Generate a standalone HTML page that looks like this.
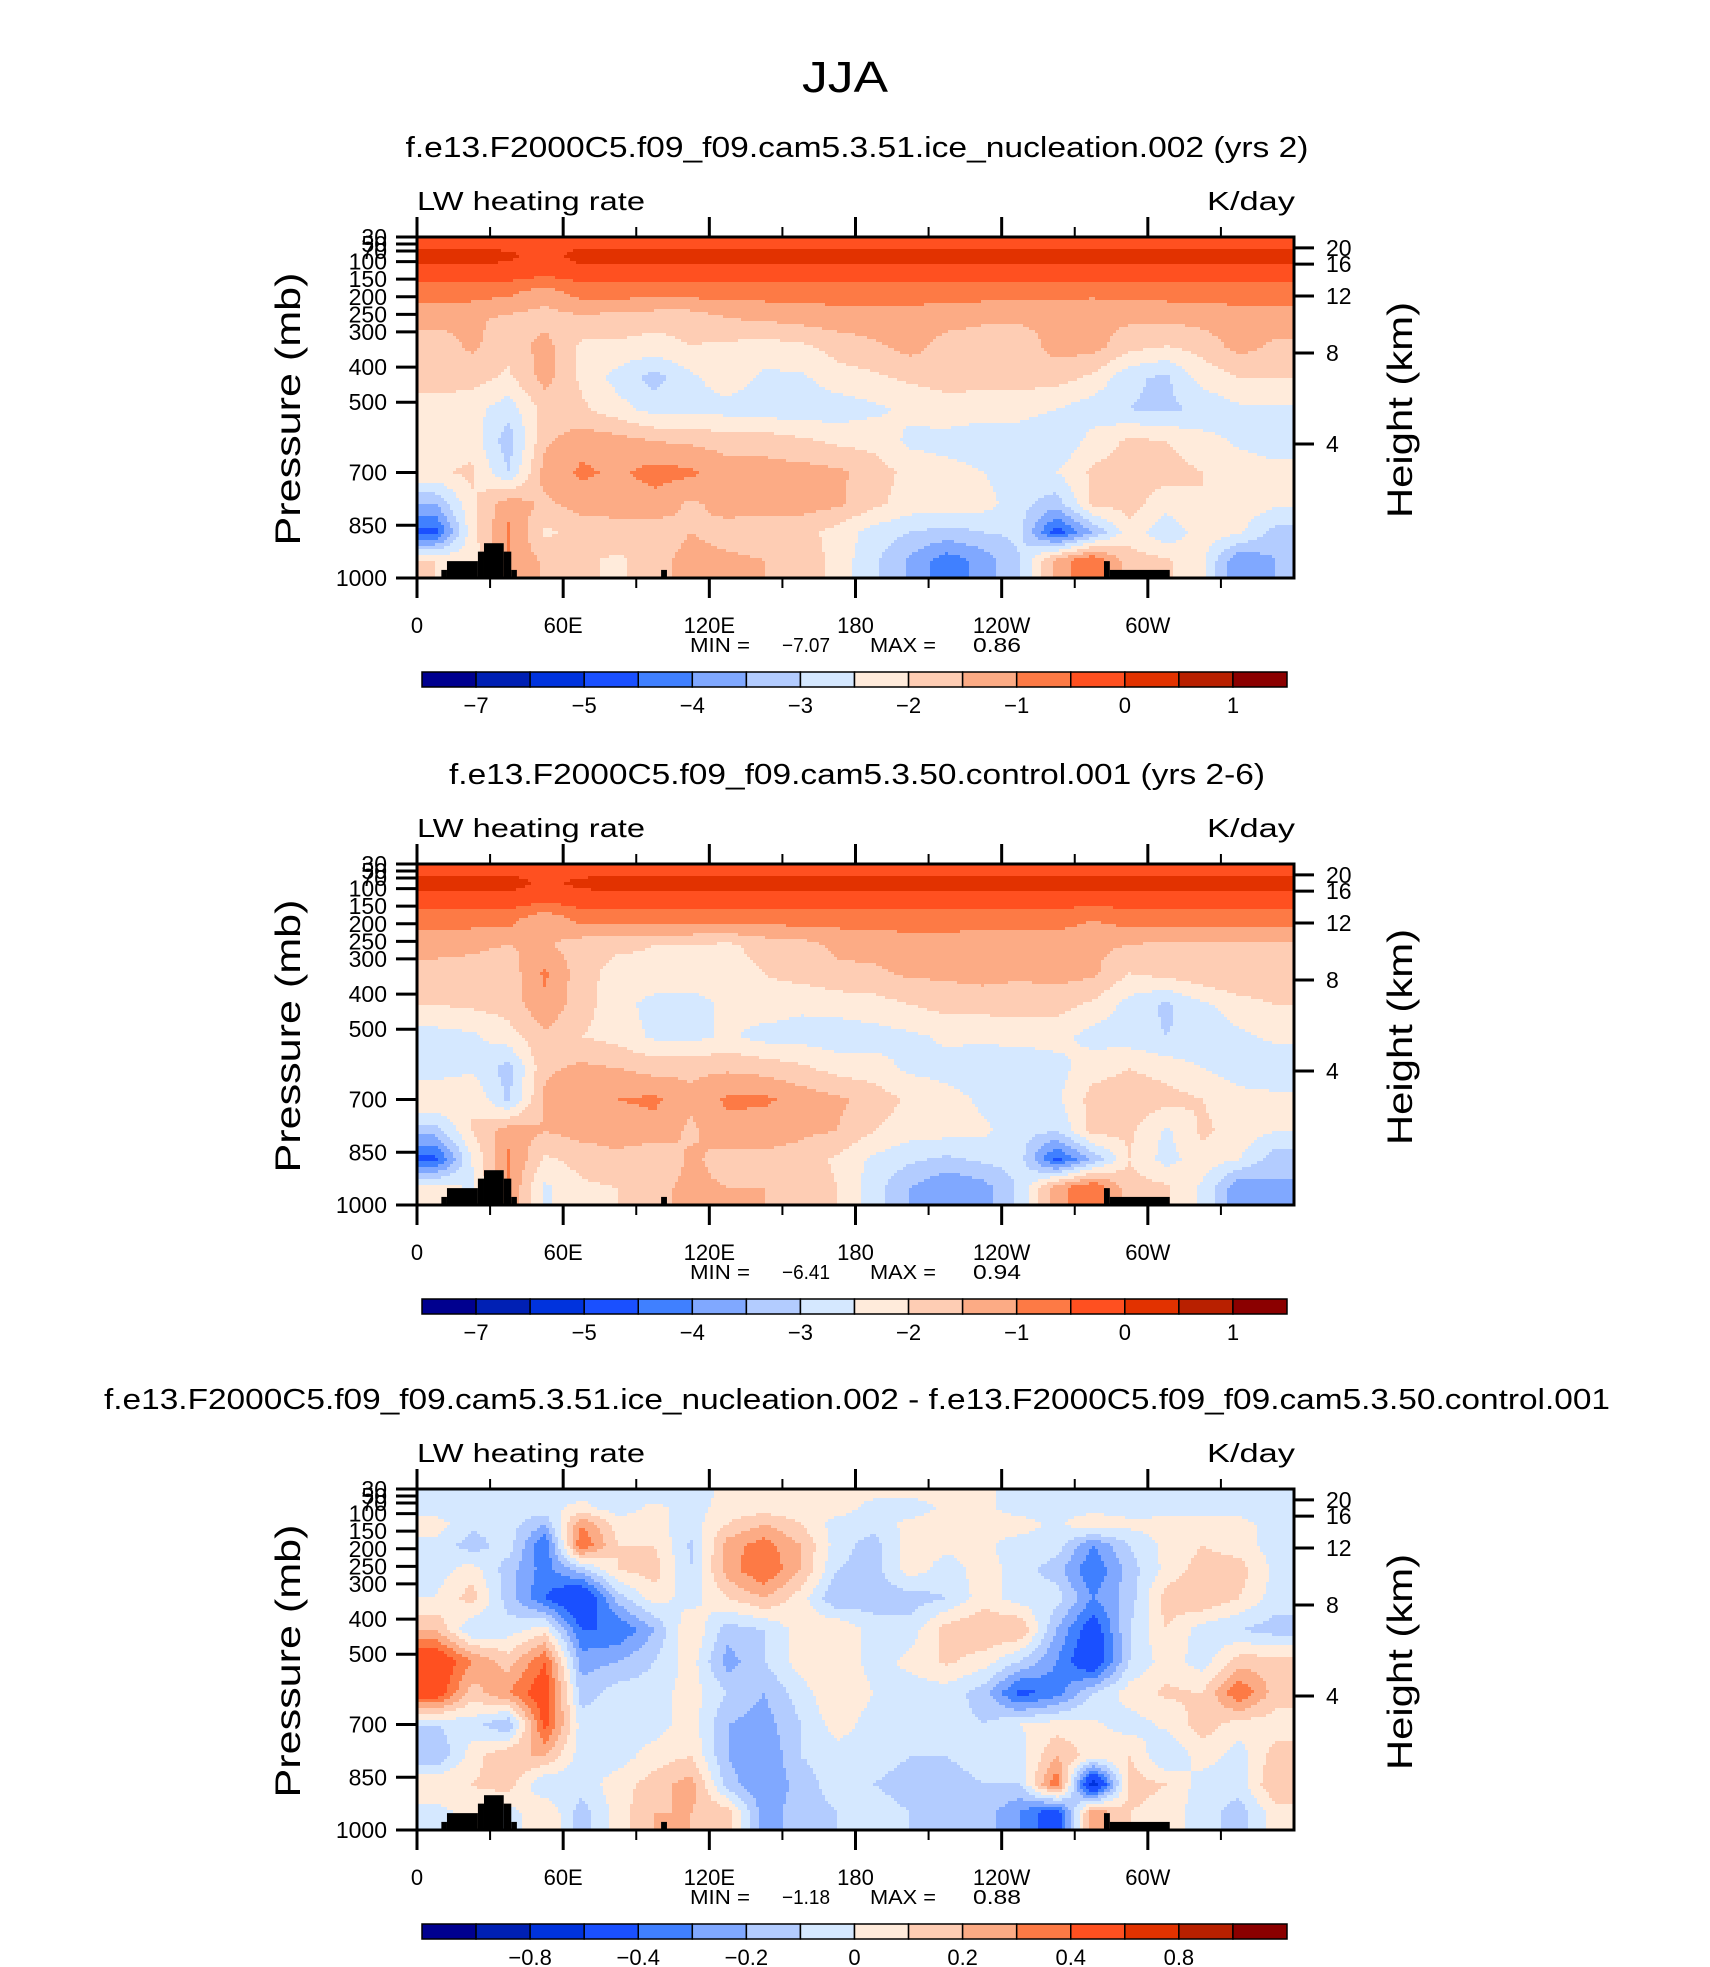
<!DOCTYPE html>
<html><head><meta charset="utf-8"><style>
html,body{margin:0;padding:0;background:#fff}
svg{display:block}
text{font-family:"Liberation Sans",sans-serif;fill:#000}
</style></head><body>
<svg id="fig" width="1710" height="1967" viewBox="0 0 1710 1967" xmlns="http://www.w3.org/2000/svg">
<rect x="0" y="0" width="1710" height="1967" fill="#fff"/>
<text x="845" y="92" font-size="44" text-anchor="middle" textLength="86" lengthAdjust="spacingAndGlyphs">JJA</text>
</svg>
<script>
// ---------- data ----------
const lonCenters = [7.5,22.5,37.5,52.5,67.5,82.5,97.5,112.5,127.5,142.5,157.5,172.5,187.5,202.5,217.5,232.5,247.5,262.5,277.5,292.5,307.5,322.5,337.5,352.5];
const presRows = [40,85,130,190,260,340,430,520,610,700,790,870,950];
const pressureTicks = [30,50,70,100,150,200,250,300,400,500,700,850,1000];
const heightTickLabels = [20,16,12,8,4];
const heightTickPres = [61,107,198,360,619];
const lonTickValues = [0,60,120,180,240,300];
const lonTickLabels = ["0","60E","120E","180","120W","60W"];
const levelsAbs = [-7,-6,-5,-4.5,-4,-3.5,-3,-2.5,-2,-1.5,-1,-0.5,0,0.5,1];
const levelsDiff = [-1,-0.8,-0.6,-0.4,-0.3,-0.2,-0.1,0,0.1,0.2,0.3,0.4,0.6,0.8,1];
const labelsAbs = ["−7","","−5","","−4","","−3","","−2","","−1","","0","","1"];
const labelsDiff = ["","−0.8","","−0.4","","−0.2","","0","","0.2","","0.4","","0.8",""];
const palette = ["#00008f","#0020b4","#0033dd","#1a50ff","#4080ff","#80a8ff","#b3ccff","#d5e8ff","#ffebdb","#fecdb4","#fcab85","#fd7a45","#ff5020","#e23200","#b82000","#8b0000"];
// terrain blocks: [lonStart, lonEnd, topPressure]
const terrainLon0 = [10,12.3,25,27.5,35.6,38.7,100.2,282,284.4];
const terrainLon1 = [12.3,25,27.5,35.6,38.7,41,102.6,284.4,309];
const terrainTop  = [977,952,925,901,925,977,977,952,977];

const field1 = [
[-0.2,-0.2,-0.2,-0.2,-0.2,-0.2,-0.2,-0.2,-0.2,-0.2,-0.2,-0.2,-0.2,-0.2,-0.2,-0.2,-0.2,-0.2,-0.2,-0.2,-0.2,-0.2,-0.2,-0.2],
[0.2,0.2,0.1,-0.2,0.2,0.2,0.2,0.2,0.2,0.2,0.2,0.2,0.2,0.2,0.2,0.2,0.2,0.2,0.2,0.2,0.2,0.2,0.2,0.2],
[-0.2,-0.2,-0.2,-0.3,-0.2,-0.2,-0.2,-0.2,-0.2,-0.2,-0.2,-0.2,-0.2,-0.2,-0.2,-0.2,-0.2,-0.2,-0.2,-0.2,-0.2,-0.2,-0.2,-0.2],
[-0.8,-0.8,-0.9,-1.3,-0.8,-0.8,-0.8,-0.8,-0.8,-0.8,-0.8,-0.8,-0.8,-0.8,-0.8,-0.8,-0.8,-0.8,-0.9,-0.8,-0.8,-0.8,-0.8,-0.8],
[-1.3,-1.4,-1.6,-1.7,-1.6,-1.7,-1.8,-1.8,-1.5,-1.4,-1.3,-1.2,-1.2,-1.2,-1.3,-1.4,-1.4,-1.4,-1.4,-1.4,-1.4,-1.3,-1.2,-1.2],
[-1.8,-1.4,-1.8,-1.3,-2.1,-2.1,-2.2,-2.0,-2.1,-2.2,-2.1,-1.8,-1.6,-1.3,-1.7,-1.8,-1.8,-1.3,-1.3,-1.8,-2.0,-1.8,-1.3,-1.6],
[-1.8,-1.8,-2.1,-1.3,-2.1,-2.7,-3.2,-2.6,-2.2,-2.6,-2.6,-2.2,-2.1,-1.9,-1.8,-1.8,-1.8,-1.8,-2.1,-2.9,-3.1,-2.3,-2.0,-2.0],
[-2.2,-2.3,-2.8,-1.8,-1.9,-2.3,-2.7,-2.7,-2.7,-2.8,-2.8,-2.8,-2.6,-2.4,-2.2,-2.3,-2.3,-2.5,-2.8,-3.0,-3.1,-2.9,-2.6,-2.6],
[-2.2,-2.2,-3.3,-1.6,-1.2,-1.3,-1.5,-1.6,-1.7,-1.7,-1.9,-2.1,-2.2,-2.6,-2.7,-2.8,-2.8,-3.0,-2.3,-1.9,-2.0,-2.3,-2.6,-2.8],
[-2.1,-1.9,-3.0,-1.3,-0.9,-1.1,-0.8,-0.9,-1.3,-1.3,-1.3,-1.4,-1.7,-2.2,-2.3,-2.5,-2.8,-2.5,-1.9,-1.8,-1.8,-2.0,-2.2,-2.3],
[-3.5,-2.1,-1.2,-1.6,-1.3,-1.3,-1.2,-1.6,-1.3,-1.3,-1.3,-1.4,-1.9,-2.2,-2.2,-2.3,-2.8,-3.3,-1.9,-1.8,-2.3,-2.0,-2.2,-2.4],
[-4.7,-2.2,-0.9,-2.1,-1.8,-1.7,-1.8,-1.5,-1.7,-1.8,-1.8,-2.2,-2.7,-3.0,-3.2,-3.0,-2.9,-4.8,-3.5,-2.2,-2.9,-2.2,-2.4,-3.2],
[-2.0,-2.3,-1.0,-1.6,-1.9,-2.1,-1.7,-1.3,-1.4,-1.5,-1.6,-2.2,-2.9,-3.6,-4.3,-3.8,-3.0,-1.3,-0.5,-1.8,-1.9,-2.4,-4.0,-3.5]
];
const field2 = [
[-0.2,-0.2,-0.2,-0.2,-0.2,-0.2,-0.2,-0.2,-0.2,-0.2,-0.2,-0.2,-0.2,-0.2,-0.2,-0.2,-0.2,-0.2,-0.2,-0.2,-0.2,-0.2,-0.2,-0.2],
[0.2,0.2,0.2,-0.1,0.1,0.2,0.2,0.2,0.2,0.2,0.2,0.2,0.2,0.2,0.2,0.2,0.2,0.2,0.2,0.2,0.2,0.2,0.2,0.2],
[-0.2,-0.2,-0.2,-0.3,-0.2,-0.2,-0.2,-0.2,-0.2,-0.2,-0.2,-0.2,-0.2,-0.2,-0.2,-0.2,-0.2,-0.2,-0.3,-0.2,-0.2,-0.2,-0.2,-0.2],
[-0.8,-0.8,-0.8,-1.5,-0.8,-0.8,-0.8,-0.8,-0.8,-0.8,-0.8,-0.8,-0.8,-0.8,-0.8,-0.8,-0.8,-0.8,-1.0,-0.8,-0.8,-0.8,-0.8,-0.8],
[-1.3,-1.4,-1.5,-1.4,-1.8,-1.9,-2.0,-2.0,-2.1,-1.8,-1.7,-1.4,-1.3,-1.2,-1.2,-1.3,-1.3,-1.3,-1.4,-1.5,-1.6,-1.6,-1.6,-1.6],
[-1.7,-1.7,-1.8,-0.9,-1.8,-2.2,-2.1,-2.2,-2.2,-2.0,-1.8,-1.6,-1.6,-1.4,-1.4,-1.3,-1.4,-1.3,-1.4,-2.0,-1.8,-1.6,-1.5,-1.6],
[-2.0,-1.9,-1.8,-1.1,-1.8,-2.3,-2.7,-2.7,-2.4,-2.2,-2.4,-2.3,-2.2,-2.0,-1.8,-1.8,-1.8,-1.8,-2.1,-2.7,-3.1,-2.6,-2.2,-2.0],
[-2.7,-2.6,-2.2,-1.6,-2.0,-2.2,-2.6,-2.7,-2.4,-2.7,-2.7,-2.8,-2.7,-2.6,-2.4,-2.4,-2.3,-2.3,-2.7,-2.8,-3.0,-2.9,-2.6,-2.4],
[-2.8,-2.6,-3.2,-1.6,-1.4,-1.5,-1.7,-1.6,-1.6,-1.7,-1.9,-2.2,-2.3,-2.6,-2.7,-2.8,-2.9,-2.7,-2.2,-2.0,-2.2,-2.5,-2.8,-2.8],
[-2.0,-2.0,-3.1,-1.4,-1.0,-1.0,-0.9,-1.4,-0.9,-0.9,-1.2,-1.4,-1.7,-2.1,-2.3,-2.6,-2.8,-2.6,-1.8,-1.7,-1.8,-2.0,-2.3,-2.4],
[-3.3,-2.0,-1.2,-1.5,-1.3,-1.3,-1.2,-1.6,-1.2,-1.3,-1.4,-1.5,-2.0,-2.3,-2.3,-2.4,-2.8,-3.0,-1.8,-1.9,-2.6,-1.9,-2.2,-2.5],
[-4.7,-2.5,-0.9,-2.1,-1.8,-1.6,-1.9,-1.4,-1.7,-1.6,-1.7,-2.1,-2.6,-2.9,-3.1,-2.9,-2.8,-4.7,-3.4,-2.0,-2.7,-2.2,-2.5,-3.3],
[-2.2,-2.6,-1.0,-2.6,-2.1,-2.0,-1.6,-1.4,-1.5,-1.5,-1.6,-2.0,-2.8,-3.5,-4.0,-3.7,-2.9,-1.2,-0.5,-1.8,-1.9,-2.6,-3.9,-3.6]
];
const field3 = [
[-0.05,-0.05,-0.05,-0.05,-0.03,-0.03,-0.05,-0.05,0.03,0.03,0.03,0.03,0.03,0.03,0.03,0.03,-0.05,-0.05,-0.05,-0.05,-0.05,-0.05,-0.05,-0.05],
[-0.05,-0.05,-0.05,-0.03,0.03,-0.05,0.03,-0.05,0.05,0.05,0.05,0.05,-0.04,-0.05,0.02,0.03,-0.05,-0.05,-0.05,-0.05,-0.05,-0.05,-0.05,-0.05],
[0.05,-0.08,-0.05,-0.2,0.3,0.05,0.03,-0.05,0.1,0.2,0.1,-0.05,-0.05,0.03,0.05,0.05,0.05,-0.03,0.1,0.03,0.04,0.04,0.04,-0.05],
[-0.03,-0.15,-0.05,-0.4,0.4,0.1,0.1,-0.12,0.25,0.35,0.2,-0.05,-0.15,0.05,0.03,0.02,-0.05,-0.05,-0.3,-0.1,0.03,0.1,0.05,-0.05],
[-0.05,0.05,-0.15,-0.35,-0.15,0.1,0.15,-0.1,0.25,0.4,0.2,-0.1,-0.15,0.05,-0.05,0.05,-0.05,-0.15,-0.4,-0.15,0.03,0.15,0.15,-0.03],
[0.0,0.15,-0.15,-0.4,-0.6,-0.15,0.05,-0.05,0.1,0.2,0.05,-0.2,-0.15,-0.15,-0.1,0.05,-0.05,-0.05,-0.3,-0.15,0.15,0.2,0.1,-0.05],
[0.2,-0.1,-0.05,0.05,-0.4,-0.4,-0.2,0.1,-0.15,-0.1,0.05,0.1,-0.05,-0.05,0.15,0.2,0.2,-0.2,-0.5,-0.1,0.1,-0.05,-0.1,-0.15],
[0.55,0.3,0.15,0.4,-0.25,-0.2,-0.1,0.05,-0.25,-0.1,0.05,0.1,-0.05,0.03,0.12,0.05,-0.1,-0.3,-0.55,-0.1,0.05,-0.05,0.15,0.15],
[0.5,0.15,0.3,0.5,-0.15,-0.05,-0.05,0.05,-0.1,-0.2,-0.05,0.1,0.0,-0.05,-0.05,-0.15,-0.45,-0.35,-0.1,0.05,0.12,0.1,0.4,0.15],
[-0.1,-0.05,-0.2,0.45,-0.05,-0.05,-0.05,0.05,-0.2,-0.25,-0.1,0.05,-0.05,-0.05,-0.05,-0.1,0.0,0.05,0.02,-0.05,0.02,0.15,0.05,0.05],
[-0.2,0.05,0.2,0.2,-0.05,-0.05,0.05,0.1,-0.2,-0.3,-0.1,-0.05,-0.05,-0.1,-0.1,-0.05,-0.05,0.2,0.05,0.1,-0.1,0.05,-0.05,0.15],
[0.1,0.1,0.15,-0.1,-0.05,0.05,0.15,0.25,-0.15,-0.3,-0.15,-0.05,-0.1,-0.15,-0.15,-0.1,-0.1,0.4,-0.7,0.15,0.1,-0.05,-0.05,0.2],
[-0.05,0.05,-0.05,0.1,-0.15,0.05,0.2,0.2,0.15,-0.25,-0.15,-0.1,-0.05,-0.1,-0.15,-0.15,-0.3,-0.5,0.3,0.1,0.05,-0.05,-0.15,0.05]
];
const titles = ["f.e13.F2000C5.f09_f09.cam5.3.51.ice_nucleation.002 (yrs 2)","f.e13.F2000C5.f09_f09.cam5.3.50.control.001 (yrs 2-6)","f.e13.F2000C5.f09_f09.cam5.3.51.ice_nucleation.002 - f.e13.F2000C5.f09_f09.cam5.3.50.control.001"];
const minVals = ["−7.07","−6.41","−1.18"];
const maxVals = ["0.86","0.94","0.88"];

// ---------- layout ----------
const NS = "http://www.w3.org/2000/svg";
const svg = document.getElementById('fig');
const PX0 = 417, PW = 877, PH = 341;
const panelTops = [237, 864, 1489];
const titleW = [903, 816, 1506];
function mk(tag, attrs, parent){ const e=document.createElementNS(NS,tag); for(const k in attrs) e.setAttribute(k,attrs[k]); (parent||svg).appendChild(e); return e; }
function xScale(lon){ return PX0 + lon/360*PW; }
function yScale(p, top){ return top + (p-30)/970*PH; }
function colorFor(v, levels){ let i=0; while(i<levels.length && v>=levels[i]) i++; return palette[i]; }
function rowIndex(p){
  if(p<=presRows[0]) return 0;
  for(let i=0;i<presRows.length-1;i++){ if(p<=presRows[i+1]) return i+(p-presRows[i])/(presRows[i+1]-presRows[i]); }
  return presRows.length-1;
}
function sample(field, lon, p){
  let c=(lon-lonCenters[0])/15; c=Math.max(0,Math.min(lonCenters.length-1,c));
  let r=rowIndex(p);
  const c0=Math.floor(c), c1=Math.min(c0+1,lonCenters.length-1), fc=c-c0;
  const r0=Math.floor(r), r1=Math.min(r0+1,presRows.length-1), fr=r-r0;
  const a=field[r0][c0]*(1-fc)+field[r0][c1]*fc;
  const b=field[r1][c0]*(1-fc)+field[r1][c1]*fc;
  return a*(1-fr)+b*fr;
}

function drawPanel(idx, field, levels, labels){
  const top = panelTops[idx];
  const off = top - 237;
  const g = mk('g', {});
  
  
  const t = mk('text', {x:857, y:157+off, 'font-size':29, 'text-anchor':'middle', textLength:titleW[idx], lengthAdjust:'spacingAndGlyphs'}, g);
  t.textContent = titles[idx];
  
  
  const lw = mk('text', {x:417, y:210+off, 'font-size':26, textLength:228, lengthAdjust:'spacingAndGlyphs'}, g);
  lw.textContent = "LW heating rate";
  
  
  const un = mk('text', {x:1295, y:210+off, 'font-size':26, 'text-anchor':'end', textLength:88, lengthAdjust:'spacingAndGlyphs'}, g);
  un.textContent = "K/day";
  
  
  // contour field
  const fg = mk('g', {'shape-rendering':'crispEdges'}, g);
  
  
  const cs = 3;
  const xEnd = PX0 + PW;
  for(let y=top; y<top+PH; y+=cs){
    const h = Math.min(cs, top+PH-y);
    const p = 30 + (y+h/2-top)/PH*970;
    let runStart = PX0, runCol = null;
    for(let x=PX0; x<xEnd; x+=cs){
      const lon=Math.min(360,(x+cs/2-PX0)/PW*360);
      const col=colorFor(sample(field,lon,p),levels);
      if(col!==runCol){
        if(runCol!==null){
          const r = mk('rect', {x:runStart, y:y, width:x-runStart+0.5, height:h+0.5, fill:runCol}, fg);
          
          
        }
        runStart = x; runCol = col;
      }
    }
    const r = mk('rect', {x:runStart, y:y, width:xEnd-runStart, height:h+0.5, fill:runCol}, fg);
    
    
  }
  // terrain
  for(let i=0;i<terrainLon0.length;i++){
    const x0=xScale(terrainLon0[i]), x1=xScale(terrainLon1[i]), yt=yScale(terrainTop[i],top);
    const r = mk('rect', {x:x0, y:yt, width:x1-x0, height:top+PH-yt, fill:'#000'}, g);
    
    
  }
  // frame
  const fr = mk('rect', {x:PX0, y:top, width:PW, height:PH, fill:'none', stroke:'#000', 'stroke-width':3}, g);
  
  
  // x ticks
  for(let lon=0; lon<360; lon+=30){
    const major = lon%60===0;
    const x = xScale(lon), len = major?20:10, sw = major?3:2;
    const tb = mk('line', {x1:x, y1:top+PH, x2:x, y2:top+PH+len, stroke:'#000', 'stroke-width':sw}, g);
    
    
    const tt = mk('line', {x1:x, y1:top, x2:x, y2:top-len, stroke:'#000', 'stroke-width':sw}, g);
    
    
  }
  lonTickValues.forEach((lon,i)=>{
    const tx = mk('text', {x:xScale(lon), y:633+off, 'font-size':22, 'text-anchor':'middle'}, g);
    tx.textContent = lonTickLabels[i];
    
    
  });
  // pressure ticks
  pressureTicks.forEach(p=>{
    const y = yScale(p, top);
    const l = mk('line', {x1:PX0-21, y1:y, x2:PX0, y2:y, stroke:'#000', 'stroke-width':3}, g);
    
    
    const tx = mk('text', {x:PX0-30, y:y+8, 'font-size':23, 'text-anchor':'end'}, g);
    tx.textContent = String(p);
    
    
  });
  const yl = mk('text', {x:0, y:0, 'font-size':35, 'text-anchor':'middle', textLength:273, lengthAdjust:'spacingAndGlyphs', transform:`translate(300,${top+172}) rotate(-90)`}, g);
  yl.textContent = "Pressure (mb)";
  
  
  // height ticks
  heightTickPres.forEach((p,i)=>{
    const y = yScale(p, top);
    const l = mk('line', {x1:PX0+PW, y1:y, x2:PX0+PW+20, y2:y, stroke:'#000', 'stroke-width':3}, g);
    
    
    const tx = mk('text', {x:1326, y:y+8, 'font-size':23}, g);
    tx.textContent = String(heightTickLabels[i]);
    
    
  });
  const hl = mk('text', {x:0, y:0, 'font-size':35, 'text-anchor':'middle', textLength:216, lengthAdjust:'spacingAndGlyphs', transform:`translate(1412,${top+173}) rotate(-90)`}, g);
  hl.textContent = "Height (km)";
  
  
  // min/max
  const mm = [["MIN =",690,60],[minVals[idx],782,48],["MAX =",870,66],[maxVals[idx],973,48]];
  mm.forEach(m=>{
    const tx = mk('text', {x:m[1], y:652+off, 'font-size':20, textLength:m[2], lengthAdjust:'spacingAndGlyphs'}, g);
    tx.textContent = m[0];
    
    
  });
  // colorbar
  const cbX=422, cbW=865, cbY=672+off, cbH=15, bw=cbW/16;
  palette.forEach((c,i)=>{
    const r = mk('rect', {x:cbX+i*bw, y:cbY, width:bw, height:cbH, fill:c, stroke:'#000', 'stroke-width':1.5}, g);
    
    
  });
  labels.forEach((lab,i)=>{
    if(!lab) return;
    const tx = mk('text', {x:cbX+(i+1)*bw, y:713+off, 'font-size':22, 'text-anchor':'middle'}, g);
    tx.textContent = lab;
    
    
  });
}
drawPanel(0, field1, levelsAbs, labelsAbs);
drawPanel(1, field2, levelsAbs, labelsAbs);
drawPanel(2, field3, levelsDiff, labelsDiff);
</script>
</body></html>
